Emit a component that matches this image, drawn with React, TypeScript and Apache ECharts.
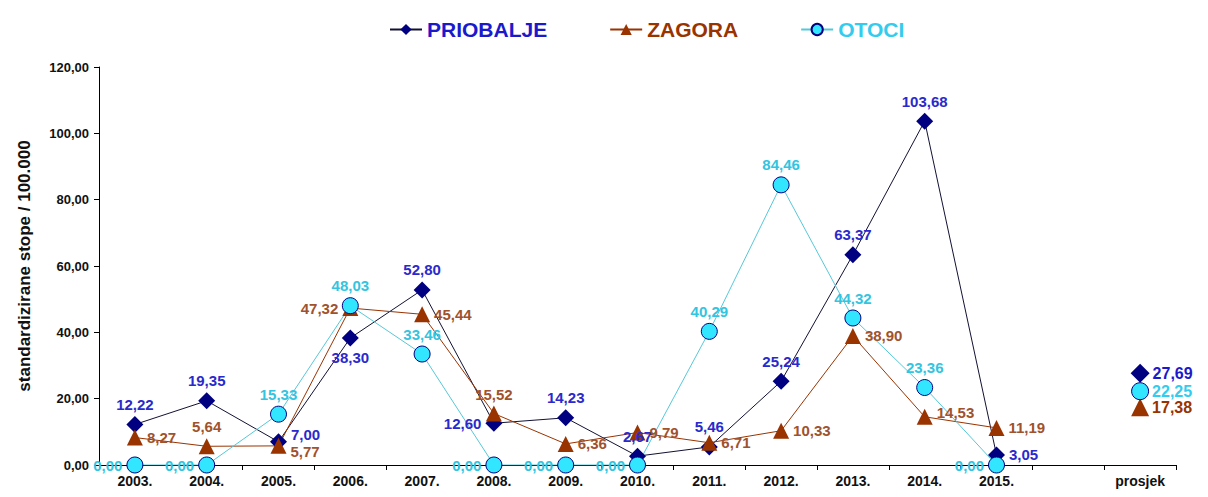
import React, { useEffect, useRef } from "react";
import * as echarts from "echarts";

const categories = ["2003.", "2004.", "2005.", "2006.", "2007.", "2008.", "2009.", "2010.", "2011.", "2012.", "2013.", "2014.", "2015.", "", "prosjek"];
const priobalje = [12.22, 19.35, 7.0, 38.3, 52.8, 12.6, 14.23, 2.67, 5.46, 25.24, 63.37, 103.68, 3.05];
const zagora = [8.27, 5.64, 5.77, 47.32, 45.44, 15.52, 6.36, 9.79, 6.71, 10.33, 38.9, 14.53, 11.19];
const otoci = [0.0, 0.0, 15.33, 48.03, 33.46, 0.0, 0.0, 0.0, 40.29, 84.46, 44.32, 23.36, 0.0];
const averages = { priobalje: 27.69, zagora: 17.38, otoci: 22.25 };

const posPriobalje = ["top", "top", "right", "bottom", "top", "left", "top", "top", "top", "top", "top", "top", "right"];
const posZagora = ["right", "top", "right", "left", "right", "top", "right", "right", "right", "right", "right", "right", "right"];
const posOtoci = ["left", "left", "top", "top", "top", "left", "left", "left", "top", "top", "top", "top", "left"];
// vertical label nudges (px) to keep close labels apart, as in the reference
const nudgePriobalje = [0, 0, -7, 0, 0, 0, 0, 0, 0, 0, 0, 0, 0];
const nudgeZagora = [0, 0, 6, 0, 0, 0, 0, 0, 0, 0, 0, -4, 0];

const fmt = (v: number) => v.toFixed(2).replace(".", ",");
const FONT = "Liberation Sans, Arial, sans-serif";

function buildData(values: number[], positions: string[], nudges: number[] | null, avg: number, labelColor: string, avgSize: number) {
  const items: any[] = values.map((v, i) => ({
    value: v,
    label: { position: positions[i], offset: [0, nudges ? nudges[i] : 0] },
  }));
  items.push(null);
  items.push({
    value: avg,
    symbolSize: avgSize,
    label: { position: "right", fontSize: 16, distance: 3, color: labelColor },
  });
  return items;
}

export default function App() {
  const ref = useRef<HTMLDivElement>(null);
  useEffect(() => {
    if (!ref.current) return;
    const chart = echarts.init(ref.current, null, { renderer: "svg" });
    const labelBase = (color: string) => ({
      show: true,
      color,
      fontFamily: FONT,
      fontWeight: "bold",
      fontSize: 15,
      distance: 4,
      formatter: (p: any) => fmt(p.value),
    });
    chart.setOption({
      animation: false,
      backgroundColor: "#ffffff",
      legend: {
        top: 6,
        left: 376,
        itemGap: 62,
        itemWidth: 32,
        itemHeight: 14,
        textStyle: { fontFamily: FONT, fontWeight: "bold", fontSize: 21 },
        data: [
          { name: "PRIOBALJE", textStyle: { color: "#1a1acc" } },
          { name: "ZAGORA", textStyle: { color: "#993300" } },
          { name: "OTOCI", textStyle: { color: "#33ccee" } },
        ],
      },
      grid: { left: 84, right: 24, top: 59, bottom: 24, containLabel: false },
      xAxis: {
        type: "category",
        data: categories,
        boundaryGap: true,
        axisLine: { lineStyle: { color: "#000", width: 1 } },
        axisTick: { show: true, length: 5, lineStyle: { color: "#000" } },
        axisLabel: { color: "#111", fontFamily: FONT, fontWeight: "bold", fontSize: 14, margin: 9, interval: 0 },
      },
      yAxis: {
        type: "value",
        min: 0,
        max: 120,
        interval: 20,
        name: "standardizirane stope / 100.000",
        nameLocation: "middle",
        nameGap: 66,
        nameRotate: 90,
        nameTextStyle: { color: "#111", fontFamily: FONT, fontWeight: "bold", fontSize: 17 },
        axisLine: { show: true, lineStyle: { color: "#000", width: 1 } },
        axisTick: { show: true, length: 5, lineStyle: { color: "#000" } },
        splitLine: { show: false },
        axisLabel: { color: "#111", fontFamily: FONT, fontWeight: "bold", fontSize: 13, margin: 10, formatter: (v: number) => fmt(v) },
      },
      series: [
        {
          name: "PRIOBALJE",
          type: "line",
          data: buildData(priobalje, posPriobalje, nudgePriobalje, averages.priobalje, "#1a1acc", 19),
          symbol: "diamond",
          symbolSize: 17,
          connectNulls: false,
          itemStyle: { color: "#000080" },
          lineStyle: { color: "#111133", width: 1 },
          label: labelBase("#2a2acc"),
        },
        {
          name: "ZAGORA",
          type: "line",
          data: buildData(zagora, posZagora, nudgeZagora, averages.zagora, "#993300", 18),
          symbol: "triangle",
          symbolSize: 16,
          connectNulls: false,
          itemStyle: { color: "#993300" },
          lineStyle: { color: "#993300", width: 1 },
          label: labelBase("#a0522d"),
        },
        {
          name: "OTOCI",
          type: "line",
          data: buildData(otoci, posOtoci, null, averages.otoci, "#33ccee", 17),
          symbol: "circle",
          symbolSize: 16,
          connectNulls: false,
          itemStyle: { color: "#33e6ff", borderColor: "#000080", borderWidth: 1 },
          lineStyle: { color: "#55c8d8", width: 1 },
          label: labelBase("#33c4e0"),
        },
      ],
    });
    return () => chart.dispose();
  }, []);
  return <div ref={ref} style={{ width: 1192, height: 481 }} />;
}
